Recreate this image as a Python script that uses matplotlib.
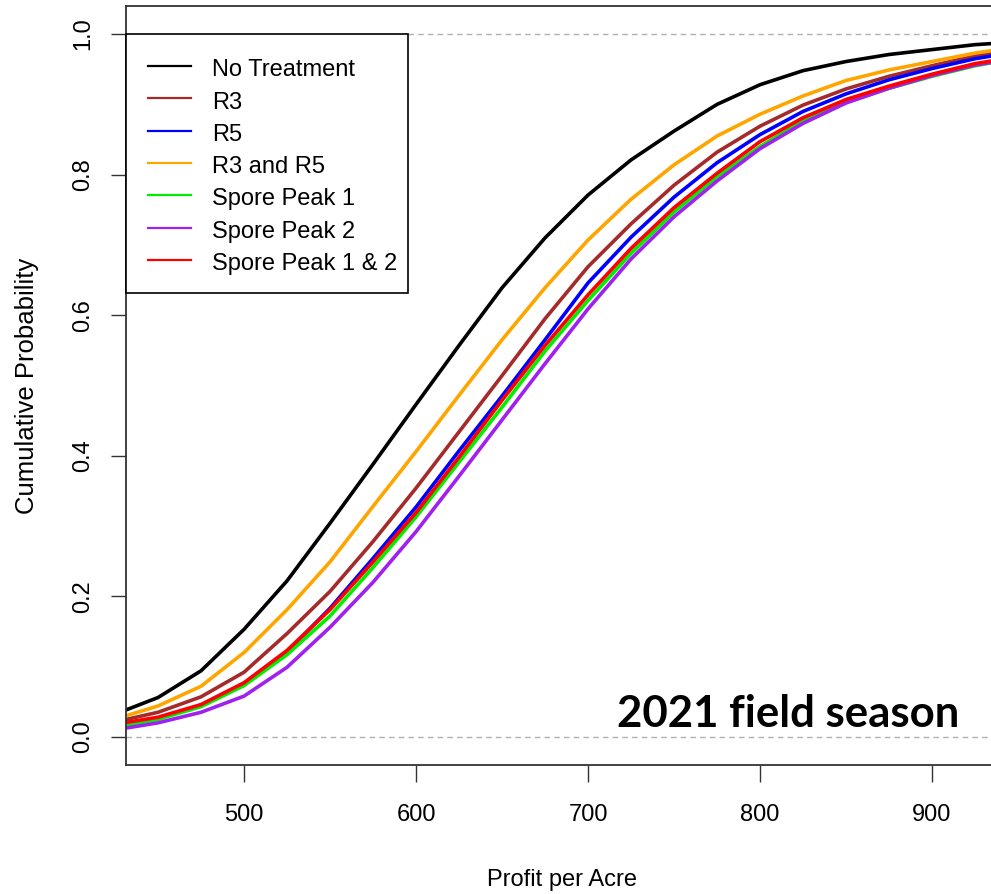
import matplotlib
matplotlib.use("Agg")
import matplotlib.pyplot as plt
from matplotlib.lines import Line2D
from matplotlib.patches import Rectangle

# profit grid and cumulative probability for each treatment
profit = [430, 450, 475, 500, 525, 550, 575, 600, 625, 650, 675,
          700, 725, 750, 775, 800, 825, 850, 875, 900, 925, 950]

no_treatment = [0.037, 0.056, 0.094, 0.153, 0.222, 0.304, 0.388, 0.473, 0.557, 0.639, 0.710,
                0.771, 0.821, 0.862, 0.900, 0.928, 0.948, 0.961, 0.971, 0.978, 0.985, 0.989]
r3 = [0.024, 0.035, 0.057, 0.092, 0.147, 0.207, 0.278, 0.354, 0.434, 0.514, 0.595,
      0.669, 0.730, 0.785, 0.832, 0.869, 0.899, 0.922, 0.940, 0.955, 0.969, 0.978]
r5 = [0.017, 0.026, 0.045, 0.076, 0.121, 0.183, 0.254, 0.327, 0.407, 0.485, 0.565,
      0.646, 0.711, 0.768, 0.817, 0.857, 0.890, 0.915, 0.935, 0.951, 0.965, 0.975]
r3_r5 = [0.029, 0.044, 0.072, 0.120, 0.181, 0.249, 0.328, 0.406, 0.486, 0.565, 0.639,
         0.707, 0.765, 0.814, 0.855, 0.886, 0.912, 0.934, 0.949, 0.961, 0.973, 0.982]
spore1 = [0.016, 0.025, 0.043, 0.073, 0.117, 0.172, 0.241, 0.313, 0.391, 0.469, 0.549,
          0.621, 0.688, 0.747, 0.797, 0.840, 0.877, 0.903, 0.923, 0.940, 0.955, 0.966]
spore2 = [0.012, 0.020, 0.035, 0.058, 0.099, 0.156, 0.220, 0.292, 0.371, 0.451, 0.531,
          0.609, 0.680, 0.740, 0.791, 0.837, 0.873, 0.902, 0.923, 0.941, 0.956, 0.966]
spore12 = [0.020, 0.028, 0.046, 0.077, 0.123, 0.181, 0.249, 0.319, 0.398, 0.479, 0.557,
           0.629, 0.695, 0.753, 0.802, 0.847, 0.881, 0.907, 0.926, 0.943, 0.958, 0.968]

labels = ["No Treatment", "R3", "R5", "R3 and R5", "Spore Peak 1", "Spore Peak 2", "Spore Peak 1 & 2"]
series = [no_treatment, r3, r5, r3_r5, spore1, spore2, spore12]
colors = ["black", "#a52a2a", "#0000ff", "#ffa500", "#00ee00", "#a020f0", "#ff0000"]

plt.rcParams['font.family'] = ['Liberation Sans', 'DejaVu Sans']
fs = 17

W, H = 991, 894
fig = plt.figure(figsize=(W / 100, H / 100), dpi=100)
# axes run off the right side of the figure, as in the original export
ax = fig.add_axes([126 / W, 129 / H, 874 / W, 759 / H])

for y, c in zip(series, colors):
    ax.plot(profit, y, color=c, lw=2.6, solid_capstyle='round')

ax.axhline(0, color='#b0b0b0', lw=1, ls=(0, (4, 3)), zorder=0)
ax.axhline(1, color='#b0b0b0', lw=1, ls=(0, (4, 3)), zorder=0)

ax.set_xlim(431.4, 939.5)
ax.set_ylim(-0.04, 1.04)
ax.set_xticks([500, 600, 700, 800, 900])
ax.set_yticks([0.0, 0.2, 0.4, 0.6, 0.8, 1.0])
ax.set_yticklabels(["0.0", "0.2", "0.4", "0.6", "0.8", "1.0"], rotation=90, va='center')
ax.tick_params(axis='x', length=12, width=1, pad=16, labelsize=fs, color='#333333')
ax.tick_params(axis='y', length=11, width=1, pad=12, labelsize=fs, color='#333333')
for s in ax.spines.values():
    s.set_linewidth(1.3)
    s.set_color('#333333')

fig.text(562 / W, 1 - 880 / H, "Profit per Acre", fontsize=fs, ha='center', va='center')
fig.text(27 / W, 1 - 385.5 / H, "Cumulative Probability", fontsize=18.5,
         rotation=90, ha='center', va='center')

# legend box drawn by hand (pixel layout of the R legend)
fig.add_artist(Rectangle((126 / W, 1 - 293 / H), 282 / W, 259 / H, transform=fig.transFigure,
                         facecolor='white', edgecolor='black', lw=1.2))
for i, (lab, c) in enumerate(zip(labels, colors)):
    row = 66 + 32.3 * i
    fig.add_artist(Line2D([148 / W, 191 / W], [1 - row / H, 1 - row / H],
                          transform=fig.transFigure, color=c, lw=1.6))
    fig.text(212 / W, 1 - (row + 10.3) / H, lab, fontsize=fs, ha='left', va='baseline')

fig.text(959 / W, 1 - 727 / H, "2021 field season", fontsize=31.5, fontweight='bold',
         family='Lato', ha='right', va='baseline')

fig.savefig("out.png", dpi=100)
